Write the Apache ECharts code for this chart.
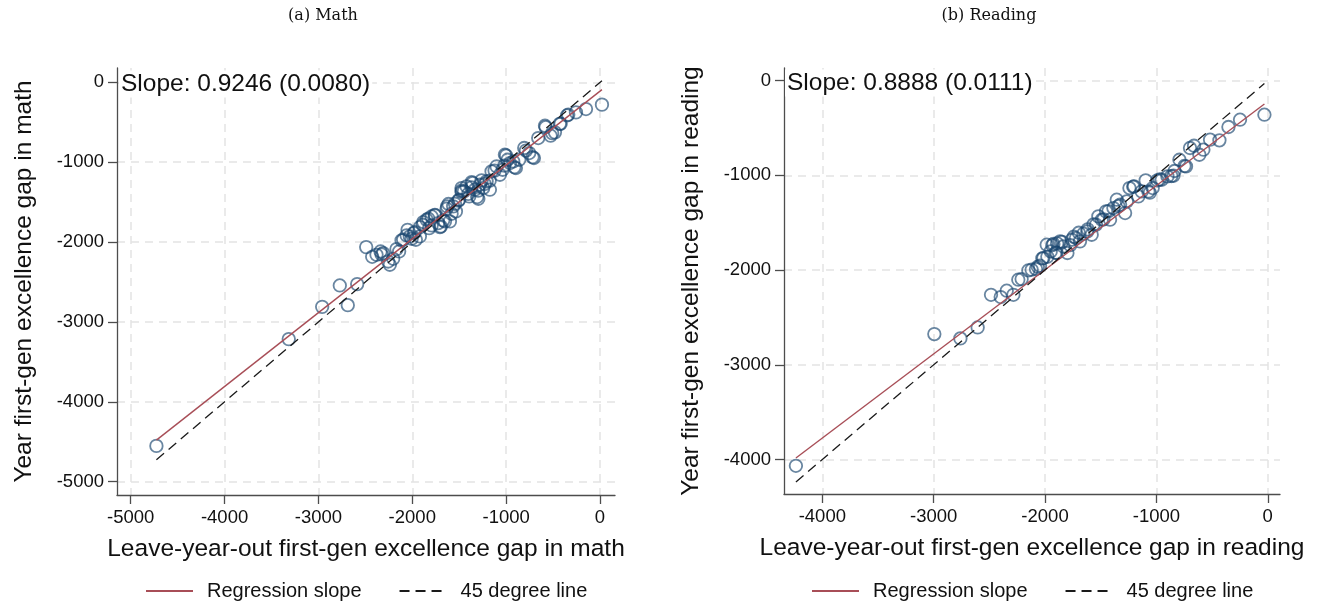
<!DOCTYPE html>
<html>
<head>
<meta charset="utf-8">
<title>First-gen excellence gap: year vs leave-year-out</title>
<script src="https://cdn.jsdelivr.net/npm/echarts@6/dist/echarts.min.js"></script>
<style>
  html, body { margin: 0; padding: 0; background: #ffffff; }
  #chart { width: 1324px; height: 607px; }
</style>
</head>
<body>
<div id="chart"></div>
<script>
// Panel titles
const panelTitles = ['(a) Math', '(b) Reading'];
const xTitles = ['Leave-year-out first-gen excellence gap in math', 'Leave-year-out first-gen excellence gap in reading'];
const yTitles = ['Year first-gen excellence gap in math', 'Year first-gen excellence gap in reading'];
const legendNames = ['Regression slope', '45 degree line'];

// Regression results shown in each panel
const mathSlope = 0.9246, mathSE = '0.0080', mathIntercept = -110;
const readSlope = 0.8888, readSE = '0.0111', readIntercept = -219;

// Tick labels
const mathTicks = [-5000, -4000, -3000, -2000, -1000, 0];
const readXTicks = [-4000, -3000, -2000, -1000, 0];
const readYTicks = [-4000, -3000, -2000, -1000, 0];

// [leave-year-out gap, year gap] per school-year, math
const mathPoints = [
  [-4726,-4552],[-3316,-3215],[-2960,-2811],[-2772,-2543],[-2687,-2790],[-2587,-2526],
  [-2491,-2063],[-2427,-2184],[-2381,-2159],[-2338,-2117],[-2310,-2138],[-2327,-2155],
  [-2257,-2243],[-2239,-2284],[-2203,-2209],[-2168,-2088],[-2140,-2117],[-2114,-1979],
  [-2097,-1971],[-2060,-1916],[-2050,-1846],[-2026,-1929],[-2007,-1958],[-1983,-1887],
  [-1972,-1875],[-1962,-1971],[-1919,-1929],[-1918,-1812],[-1890,-1783],[-1883,-1749],
  [-1848,-1720],[-1829,-1708],[-1820,-1825],[-1794,-1679],[-1794,-1791],[-1759,-1658],
  [-1758,-1666],[-1724,-1762],[-1705,-1812],[-1695,-1804],[-1670,-1728],[-1652,-1741],
  [-1634,-1582],[-1628,-1553],[-1614,-1523],[-1599,-1741],[-1581,-1645],[-1564,-1553],
  [-1545,-1520],[-1535,-1616],[-1509,-1481],[-1500,-1470],[-1475,-1323],[-1474,-1373],
  [-1474,-1356],[-1450,-1365],[-1421,-1303],[-1404,-1397],[-1393,-1428],[-1368,-1314],
  [-1367,-1248],[-1357,-1261],[-1333,-1344],[-1308,-1436],[-1298,-1356],[-1296,-1457],
  [-1279,-1282],[-1261,-1227],[-1244,-1323],[-1228,-1272],[-1208,-1240],[-1175,-1230],
  [-1173,-1344],[-1155,-1115],[-1123,-1105],[-1101,-1052],[-1066,-1157],[-1037,-1094],
  [-1018,-1042],[-1013,-906],[-1000,-916],[-984,-969],[-959,-1010],[-924,-990],
  [-912,-1063],[-896,-1073],[-860,-969],[-807,-822],[-789,-854],[-754,-885],
  [-719,-937],[-704,-947],[-658,-697],[-586,-543],[-579,-561],[-526,-668],
  [-509,-636],[-480,-626],[-428,-519],[-419,-518],[-351,-414],[-338,-405],
  [-256,-376],[-149,-334],[21,-279]
];

// [leave-year-out gap, year gap] per school-year, reading
const readPoints = [
  [-4237,-4067],[-2994,-2676],[-2760,-2722],[-2605,-2606],[-2485,-2261],[-2398,-2285],
  [-2344,-2218],[-2284,-2261],[-2240,-2102],[-2210,-2095],[-2150,-2004],[-2120,-1996],
  [-2081,-1989],[-2065,-1965],[-2045,-1954],[-2024,-1877],[-2015,-1873],[-1985,-1732],
  [-1979,-1860],[-1949,-1803],[-1935,-1737],[-1925,-1725],[-1905,-1817],[-1895,-1820],
  [-1891,-1719],[-1865,-1697],[-1847,-1702],[-1835,-1750],[-1799,-1820],[-1774,-1737],
  [-1760,-1680],[-1742,-1648],[-1722,-1662],[-1697,-1606],[-1686,-1697],[-1656,-1616],
  [-1620,-1592],[-1617,-1570],[-1581,-1627],[-1564,-1518],[-1542,-1521],[-1521,-1433],
  [-1491,-1468],[-1475,-1465],[-1452,-1380],[-1430,-1377],[-1416,-1468],[-1386,-1345],
  [-1356,-1257],[-1341,-1324],[-1326,-1310],[-1281,-1398],[-1266,-1275],[-1242,-1134],
  [-1208,-1120],[-1201,-1116],[-1162,-1222],[-1132,-1169],[-1096,-1053],[-1072,-1169],
  [-1059,-1183],[-1033,-1134],[-991,-1053],[-970,-1042],[-952,-1046],[-901,-1011],
  [-866,-1007],[-847,-1004],[-837,-954],[-793,-835],[-748,-901],[-734,-905],
  [-698,-711],[-662,-687],[-614,-782],[-578,-729],[-518,-623],[-434,-630],
  [-353,-489],[-249,-412],[-30,-359]
];

// Axis extents (Stata-style padding around the data)
const mathXRange = [-5146, 160], mathYRange = [-5167, 180];
const readXRange = [-4344, 110], readYRange = [-4365, 134];

const FONT = '"Liberation Sans", Arial, Helvetica, sans-serif';
const GRID_COLOR = '#e4e4e4';
const AXIS_COLOR = '#4d4d4d';
const DOT_COLOR = 'rgba(26,71,111,0.82)';
const FIT_COLOR = '#a84e57';

function fitLine(points, slope, intercept) {
  const xs = points.map(p => p[0]);
  const lo = Math.min(...xs), hi = Math.max(...xs);
  return [[lo, slope * lo + intercept], [hi, slope * hi + intercept]];
}
function diagLine(points) {
  const xs = points.map(p => p[0]);
  const lo = Math.min(...xs), hi = Math.max(...xs);
  return [[lo, lo], [hi, hi]];
}

function valueAxis(idx, range, ticks, name, isY) {
  return {
    type: 'value',
    gridIndex: idx,
    min: range[0],
    max: range[1],
    name: name,
    nameLocation: 'middle',
    nameGap: isY ? 80 : 42,
    nameTextStyle: { fontFamily: FONT, fontSize: 24.5, color: '#111' },
    axisLine: { show: true, onZero: false, lineStyle: { color: AXIS_COLOR, width: 1.3 } },
    axisTick: { show: true, length: 9, customValues: ticks, lineStyle: { color: AXIS_COLOR, width: 1.3 } },
    axisLabel: {
      customValues: ticks,
      margin: isY ? 13 : 13,
      fontFamily: FONT, fontSize: 18.5, color: '#111',
      formatter: v => String(v)
    },
    splitLine: { show: true, lineStyle: { color: GRID_COLOR, width: 1.5, type: [8, 6] } }
  };
}

function panelSeries(idx, points, slope, intercept) {
  return [
    {
      type: 'scatter', xAxisIndex: idx, yAxisIndex: idx, data: points,
      symbol: 'circle', symbolSize: 12.5, z: 2,
      itemStyle: { color: 'rgba(0,0,0,0)', borderColor: DOT_COLOR, borderWidth: 1.8 },
      silent: true
    },
    {
      name: legendNames[0], type: 'line', xAxisIndex: idx, yAxisIndex: idx,
      data: fitLine(points, slope, intercept), symbol: 'none', z: 3,
      lineStyle: { color: FIT_COLOR, width: 1.4 }, itemStyle: { color: FIT_COLOR }
    },
    {
      name: legendNames[1], type: 'line', xAxisIndex: idx, yAxisIndex: idx,
      data: diagLine(points), symbol: 'none', z: 4,
      lineStyle: { color: '#1a1a1a', width: 1.3, type: [10, 6] }, itemStyle: { color: '#1a1a1a' }
    }
  ];
}

function legendAt(left) {
  return {
    data: legendNames, left: left, top: 581, orient: 'horizontal',
    itemWidth: 47, itemHeight: 14, itemGap: 37, padding: 0,
    selectedMode: false,
    itemStyle: { opacity: 0 },
    lineStyle: { type: 'inherit' },
    textStyle: { fontFamily: FONT, fontSize: 20, color: '#111', padding: [0, 0, 0, 9] }
  };
}

function textEl(x, y, text, font, align, boxed) {
  const style = { x: x, y: y, text: text, font: font, fill: '#111',
                  textAlign: align, textVerticalAlign: 'middle', align: align, verticalAlign: 'middle' };
  if (boxed) { style.backgroundColor = '#ffffff'; style.padding = [1, 2]; }
  return { type: 'text', silent: true, z: 10, style: style };
}

const chart = echarts.init(document.getElementById('chart'), null, { renderer: 'canvas' });
chart.setOption({
  backgroundColor: '#ffffff',
  animation: false,
  grid: [
    { left: 117, top: 68, width: 498, height: 427 },
    { left: 784, top: 68, width: 496, height: 426 }
  ],
  xAxis: [
    valueAxis(0, mathXRange, mathTicks, xTitles[0], false),
    valueAxis(1, readXRange, readXTicks, xTitles[1], false)
  ],
  yAxis: [
    valueAxis(0, mathYRange, mathTicks, yTitles[0], true),
    valueAxis(1, readYRange, readYTicks, yTitles[1], true)
  ],
  legend: [legendAt(145), legendAt(811)],
  graphic: [
    textEl(323, 16, panelTitles[0], '16px "DejaVu Serif", serif', 'center', false),
    textEl(989, 16, panelTitles[1], '16px "DejaVu Serif", serif', 'center', false),
    textEl(119, 84, 'Slope: ' + mathSlope.toFixed(4) + ' (' + mathSE + ')', '24.5px ' + FONT, 'left', true),
    textEl(785, 83, 'Slope: ' + readSlope.toFixed(4) + ' (' + readSE + ')', '24.5px ' + FONT, 'left', true)
  ],
  series: [
    ...panelSeries(0, mathPoints, mathSlope, mathIntercept),
    ...panelSeries(1, readPoints, readSlope, readIntercept)
  ]
});
</script>
</body>
</html>
